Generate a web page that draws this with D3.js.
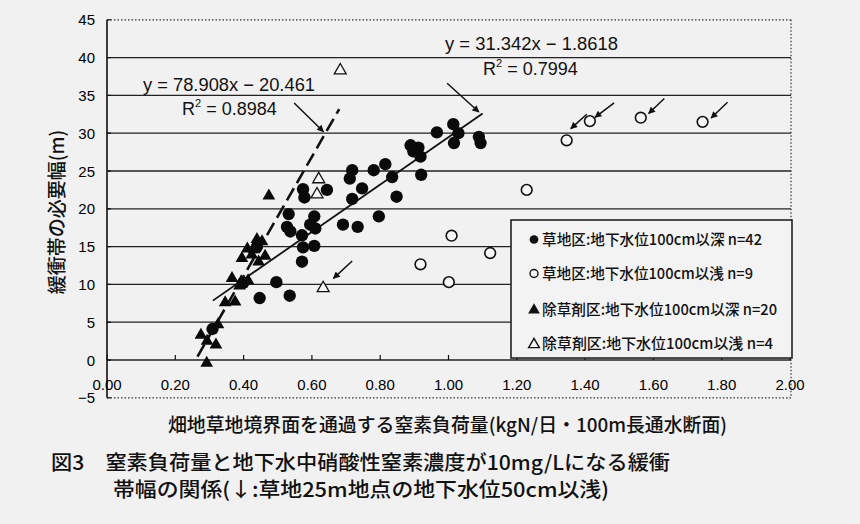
<!DOCTYPE html>
<html><head><meta charset="utf-8">
<script src="https://cdn.jsdelivr.net/npm/d3@7"></script>
<style>
html,body{margin:0;padding:0;background:#f1f1f1;}
svg{display:block;}
</style></head>
<body>
<script>
// ---- data ----
const grassDeep = [ // 草地区:地下水位100cm以深 (filled circles)
 [0.966,30.1],[1.014,31.2],[1.029,30.0],[1.016,28.7],[1.089,29.5],[1.094,28.7],
 [0.889,28.4],[0.912,28.1],[0.897,27.6],[0.918,26.9],[0.920,24.5],[0.815,25.9],
 [0.781,25.1],[0.718,25.1],[0.711,24.0],[0.835,24.2],[0.747,22.7],[0.848,21.6],
 [0.718,21.3],[0.644,22.5],[0.574,22.6],[0.578,21.5],[0.796,19.0],[0.691,17.9],
 [0.734,17.6],[0.607,19.0],[0.595,17.9],[0.610,17.4],[0.571,16.5],[0.574,14.9],
 [0.607,15.1],[0.532,19.3],[0.527,17.6],[0.537,17.0],[0.571,13.0],[0.496,10.3],
 [0.447,8.2],[0.535,8.5],[0.309,4.1],[0.399,10.2],[0.439,14.95]
];
const grassShallow = [ // 草地区:地下水位100cm以浅 (open circles)
 [1.414,31.6],[1.563,32.05],[1.744,31.5],[1.346,29.06],[1.229,22.5],
 [1.122,14.15],[1.009,16.44],[0.918,12.66],[1.001,10.3]
];
const herbDeep = [ // 除草剤区:地下水位100cm以深 (filled triangles)
 [0.474,21.7],[0.439,15.95],[0.454,15.65],[0.424,13.9],[0.395,13.45],[0.463,13.75],
 [0.444,13.0],[0.366,10.8],[0.393,10.36],[0.413,10.5],[0.388,9.8],[0.346,7.6],
 [0.375,7.7],[0.325,4.7],[0.275,3.3],[0.293,2.5],[0.319,2.0],[0.292,-0.4],
 [0.431,14.6],[0.411,14.7]
];
const herbShallow = [ // 除草剤区:地下水位100cm以浅 (open triangles)
 [0.683,38.3],[0.620,23.9],[0.615,21.9],[0.633,9.5]
];
// regression lines: [slope, intercept, xStart, xEnd]
const fitAll = [31.342, -1.8618, 0.31, 1.10];
const fitHerb = [78.908, -20.461, 0.265, 0.68];
// arrows [x1,y1,x2,y2] in data units
const arrows = [
 [0.548,34.0,0.634,30.2],
 [0.996,36.6,1.089,32.8],
 [1.485,34.0,1.429,32.1],
 [1.405,32.5,1.358,30.6],
 [1.632,34.6,1.586,32.6],
 [1.817,34.1,1.769,32.0],
 [0.718,13.1,0.663,10.8]
];
const xTicks = [0,0.2,0.4,0.6,0.8,1.0,1.2,1.4,1.6,1.8,2.0];
const yTicks = [-5,0,5,10,15,20,25,30,35,40,45];
const legendItems = [
 {sym:"circle", fill:true,  label:"草地区:地下水位100cm以深 n=42", w:220},
 {sym:"circle", fill:false, label:"草地区:地下水位100cm以浅 n=9", w:211},
 {sym:"tri",    fill:true,  label:"除草剤区:地下水位100cm以深 n=20", w:235},
 {sym:"tri",    fill:false, label:"除草剤区:地下水位100cm以浅  n=4", w:231}
];

// ---- drawing ----
const W=860,H=524;
const svg=d3.select("body").append("svg").attr("width",W).attr("height",H);
svg.append("rect").attr("width",W).attr("height",H).attr("fill","#f1f1f1");
const x=d3.scaleLinear().domain([0,2]).range([107,790]);
const y=d3.scaleLinear().domain([-5,45]).range([397.8,19.8]);
const num="'Liberation Sans',Arial,sans-serif";
const jp="'Noto Sans CJK JP','Noto Sans',sans-serif";

// gridlines
svg.append("g").selectAll("line").data(yTicks.filter(v=>v>-5&&v<45)).join("line")
 .attr("x1",x(0)).attr("x2",x(2)+1).attr("y1",d=>y(d)).attr("y2",d=>y(d))
 .attr("stroke","#222").attr("stroke-width",1.3);
// dotted border top/right/bottom
const dot={stroke:"#333","stroke-width":1.2,"stroke-dasharray":"1.5,2"};
function dl(x1,y1,x2,y2){const l=svg.append("line").attr("x1",x1).attr("y1",y1).attr("x2",x2).attr("y2",y2);for(const k in dot)l.attr(k,dot[k]);}
dl(x(0),y(45),x(2)+1,y(45));
dl(x(2)+1,y(45),x(2)+1,y(-5));
dl(x(0),y(-5),x(2)+1,y(-5));
// left axis
svg.append("line").attr("x1",x(0)).attr("x2",x(0)).attr("y1",y(45)).attr("y2",y(-5)).attr("stroke","#111").attr("stroke-width",1.6);
svg.append("g").selectAll("line").data(yTicks).join("line")
 .attr("x1",x(0)).attr("x2",x(0)+4).attr("y1",d=>y(d)).attr("y2",d=>y(d)).attr("stroke","#111").attr("stroke-width",1.2);
// x axis ticks at y=0 (upward)
svg.append("g").selectAll("line").data(xTicks).join("line")
 .attr("x1",d=>x(d)).attr("x2",d=>x(d)).attr("y1",y(0)).attr("y2",y(0)-5).attr("stroke","#111").attr("stroke-width",1.2);
// tick labels
svg.append("g").selectAll("text").data(xTicks).join("text")
 .attr("x",d=>x(d)).attr("y",390).attr("text-anchor","middle")
 .attr("font-family",num).attr("font-size",15).attr("fill","#000").text(d=>d.toFixed(2));
svg.append("g").selectAll("text").data(yTicks).join("text")
 .attr("x",95).attr("y",d=>y(d)+5.5).attr("text-anchor","end")
 .attr("font-family",num).attr("font-size",15).attr("fill","#000").text(d=>d<0?"\u2212"+Math.abs(d):d);

// regression lines
function fitLine(f,dash,sw){
 const pts=[f[2],f[3]].map(v=>[x(v),y(f[0]*v+f[1])]);
 svg.append("path").attr("d",d3.line()(pts)).attr("stroke","#111").attr("stroke-width",sw)
  .attr("fill","none").attr("stroke-dasharray",dash||null);
}
fitLine(fitHerb,"14,6",2.6);
fitLine(fitAll,null,1.8);

// markers
const circ=d3.symbol().type(d3.symbolCircle);
const tri=d3.symbol().type(d3.symbolTriangle);
svg.append("g").selectAll("path").data(grassDeep).join("path")
 .attr("transform",d=>`translate(${x(d[0])},${y(d[1])})`).attr("d",circ.size(120)()).attr("fill","#0a0a0a");
svg.append("g").selectAll("path").data(grassShallow).join("path")
 .attr("transform",d=>`translate(${x(d[0])},${y(d[1])})`).attr("d",circ.size(90)())
 .attr("fill","#f7f7f7").attr("stroke","#111").attr("stroke-width",1.6);
svg.append("g").selectAll("path").data(herbDeep).join("path")
 .attr("transform",d=>`translate(${x(d[0])},${y(d[1])})`).attr("d",tri.size(70)()).attr("fill","#0a0a0a");
svg.append("g").selectAll("path").data(herbShallow).join("path")
 .attr("transform",d=>`translate(${x(d[0])},${y(d[1])})`).attr("d",tri.size(62)())
 .attr("fill","#f7f7f7").attr("stroke","#111").attr("stroke-width",1.3);

// arrows
const defs=svg.append("defs");
defs.append("marker").attr("id","ah").attr("viewBox","0 0 10 10").attr("refX",9).attr("refY",5)
 .attr("markerWidth",8).attr("markerHeight",7).attr("markerUnits","userSpaceOnUse").attr("orient","auto")
 .append("path").attr("d","M0,0L10,5L0,10Z").attr("fill","#111");
svg.append("g").selectAll("line").data(arrows).join("line")
 .attr("x1",d=>x(d[0])).attr("y1",d=>y(d[1])).attr("x2",d=>x(d[2])).attr("y2",d=>y(d[3]))
 .attr("stroke","#111").attr("stroke-width",1.5).attr("marker-end","url(#ah)");

// equations
function eq(tx,ty,str,w){
 svg.append("text").attr("x",tx).attr("y",ty).attr("font-family",num).attr("font-size",18).attr("fill","#111")
  .attr("textLength",w).attr("lengthAdjust","spacingAndGlyphs").text(str);
}
function r2(tx,ty,val){
 const t=svg.append("text").attr("x",tx).attr("y",ty).attr("font-family",num).attr("font-size",18).attr("fill","#111");
 t.append("tspan").text("R");
 t.append("tspan").attr("font-size",11).attr("dy",-8).text("2");
 t.append("tspan").attr("dy",8).text(" = "+val);
}
eq(143,91,"y = 78.908x \u2212 20.461",172);
r2(182,115,"0.8984");
eq(445,50,"y = 31.342x \u2212 1.8618",173);
r2(483,75,"0.7994");

// legend
const lg=svg.append("g");
lg.append("rect").attr("x",511).attr("y",220).attr("width",281).attr("height",138)
 .attr("fill","#f3f3f3").attr("stroke","#222").attr("stroke-width",1.6);
const rowsY=[239.5,273.5,309,343.5];
legendItems.forEach((it,i)=>{
 const cy=rowsY[i];
 const s=(it.sym==="circle"?d3.symbol().type(d3.symbolCircle).size(it.fill?60:50):d3.symbol().type(d3.symbolTriangle).size(it.fill?60:50))();
 lg.append("path").attr("transform",`translate(534,${cy+ (it.sym==="tri"?1:0)})`).attr("d",s)
  .attr("fill",it.fill?"#111":"none").attr("stroke",it.fill?"none":"#111").attr("stroke-width",1.4);
 lg.append("text").attr("x",542).attr("y",cy+5.5).attr("font-family",jp).attr("font-size",15).attr("font-weight",500).attr("fill","#111")
  .attr("textLength",it.w).attr("lengthAdjust","spacingAndGlyphs").text(it.label);
});

// axis titles
svg.append("text").attr("transform","translate(64,212) rotate(-90)").attr("text-anchor","middle")
 .attr("font-family",jp).attr("font-size",19).attr("font-weight",500).attr("fill","#111").text("緩衝帯の必要幅(m)");
svg.append("text").attr("x",168).attr("y",432).attr("font-family",jp).attr("font-size",19).attr("font-weight",500).attr("fill","#111")
 .attr("textLength",559).attr("lengthAdjust","spacingAndGlyphs").text("畑地草地境界面を通過する窒素負荷量(kgN/日・100m長通水断面)");
// caption
svg.append("text").attr("x",51).attr("y",470).attr("font-family",jp).attr("font-size",20).attr("font-weight",500).attr("fill","#111")
 .attr("textLength",619).attr("lengthAdjust","spacingAndGlyphs").text("図3　窒素負荷量と地下水中硝酸性窒素濃度が10mg/Lになる緩衝");
svg.append("text").attr("x",113).attr("y",497).attr("font-family",jp).attr("font-size",20).attr("font-weight",500).attr("fill","#111")
 .attr("textLength",496).attr("lengthAdjust","spacingAndGlyphs").text("帯幅の関係(↓:草地25m地点の地下水位50cm以浅)");
</script>
</body></html>
